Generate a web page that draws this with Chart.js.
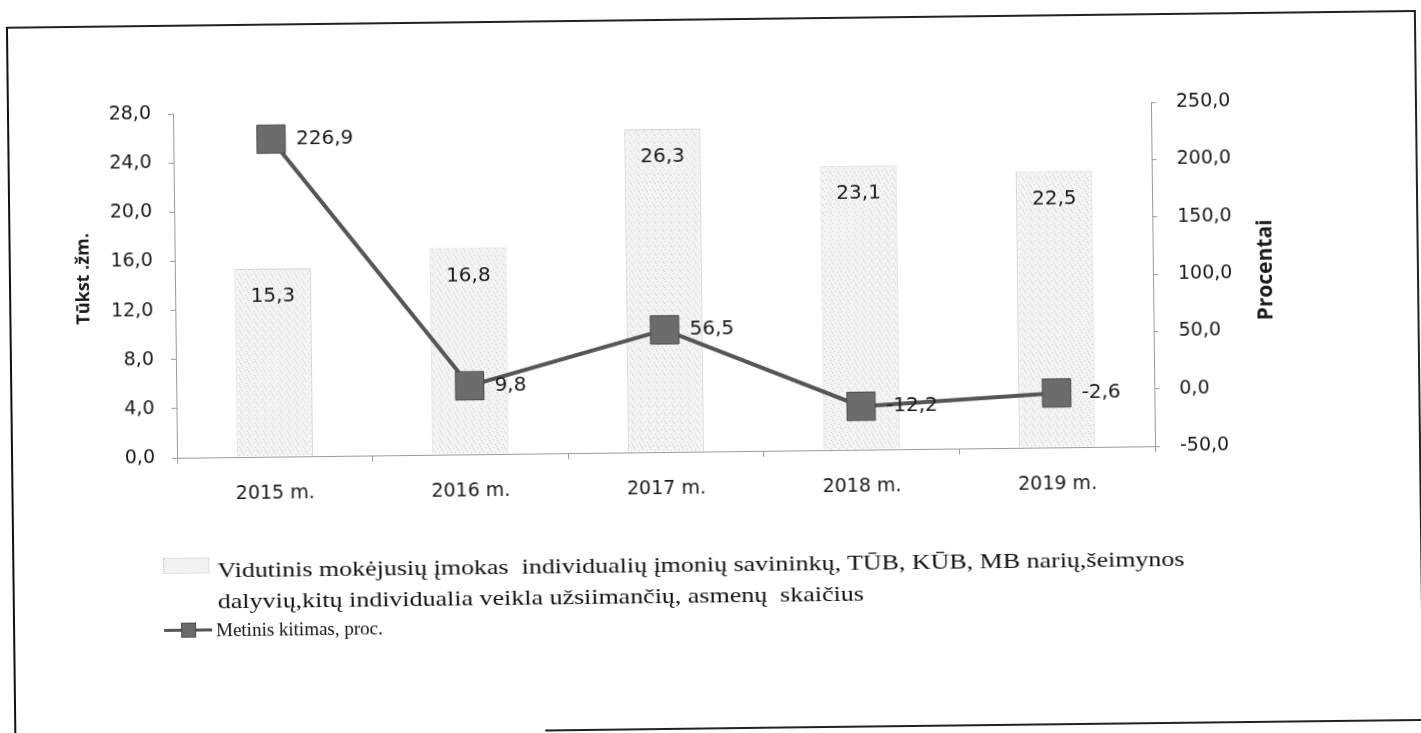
<!DOCTYPE html>
<html>
<head>
<meta charset="utf-8">
<script src="https://cdn.jsdelivr.net/npm/chart.js@4.4.1/dist/chart.umd.min.js"></script>
<style>
  html, body { margin:0; padding:0; background:#fff; overflow:hidden; }
  #page { width:1421px; height:733px; position:relative; transform: rotate(-0.68deg); transform-origin: 664px 280px; }
  #frame { position:absolute; left:9px; top:19px; width:1406px; height:760px; border-left:2px solid #111; border-top:2px solid #222; border-right:2px solid #222; }
  #bottomLine { position:absolute; left:540px; top:728px; width:900px; height:0; border-top:2px solid #222; }
  #wrap { position:absolute; left:0; top:0; width:1421px; height:733px; }
  .legend { position:absolute; font-family:"Liberation Serif","Times New Roman",serif; color:#111; white-space:pre; }
  #lg1 { left:214px; top:549px; font-size:22px; line-height:31px; transform: scaleX(1.18); transform-origin: 0 0; }
  #lg2 { left:212px; top:613px; font-size:19px; line-height:24px; }
  #sw1 { position:absolute; left:160px; top:552px; width:44px; height:14px; background:#f2f2f2; border:1px dotted #cfcfcf; }
  #sw2line { position:absolute; left:160px; top:623px; width:48px; height:0; border-top:3px solid #555; }
  #sw2box { position:absolute; left:177px; top:617px; width:13px; height:13px; background:#6a6a6a; border:1px solid #4a4a4a; }
</style>
</head>
<body>
<div id="page">
<div id="frame"></div>
<div id="bottomLine"></div>
<div id="wrap"><canvas id="c"></canvas></div>
<div id="sw1"></div>
<div class="legend" id="lg1">Vidutinis mokėjusių įmokas  individualių įmonių savininkų, TŪB, KŪB, MB narių,šeimynos
dalyvių,kitų individualia veikla užsiimančių, asmenų  skaičius</div>
<div id="sw2line"></div><div id="sw2box"></div>
<div class="legend" id="lg2">Metinis kitimas, proc.</div>
</div>
<script>
const categories = ["2015 m.", "2016 m.", "2017 m.", "2018 m.", "2019 m."];
const personsThousands = [15.3, 16.8, 26.3, 23.1, 22.5];
const annualChangePct = [226.9, 9.8, 56.5, -12.2, -2.6];
const leftTicks = [0, 4, 8, 12, 16, 20, 24, 28];
const rightTicks = [-50, 0, 50, 100, 150, 200, 250];
const leftTitle = "Tūkst .žm.";
const rightTitle = "Procentai";

const fmt = v => v.toFixed(1).replace('.', ',');

// light speckled fill for bars
function makePattern() {
  const p = document.createElement('canvas');
  p.width = 8; p.height = 8;
  const g = p.getContext('2d');
  g.fillStyle = '#f4f4f4'; g.fillRect(0,0,8,8);
  g.fillStyle = '#d4d4d4';
  [[1,1],[5,2],[3,5],[7,6],[0,7],[6,4]].forEach(([x,y]) => g.fillRect(x,y,1,1));
  return g.createPattern(p, 'repeat');
}

const tickFont = { family: "'DejaVu Sans', sans-serif", size: 19 };

const labelPlugin = {
  id: 'customLabels',
  afterDraw(chart) {
    const ctx = chart.ctx;
    ctx.save();
    ctx.fillStyle = '#1a1a1a';
    ctx.textBaseline = 'middle';
    ctx.font = "20px 'DejaVu Sans', sans-serif";
    const bars = chart.getDatasetMeta(1).data;
    bars.forEach((el, i) => {
      ctx.textAlign = 'center';
      ctx.fillText(fmt(personsThousands[i]), el.x, el.y + 28);
    });
    const pts = chart.getDatasetMeta(0).data;
    pts.forEach((el, i) => {
      ctx.textAlign = 'left';
      ctx.fillText(fmt(annualChangePct[i]), el.x + 25, el.y);
    });
    // axis titles (both read bottom-to-top)
    ctx.textAlign = 'center';
    [[leftTitle, 84, 272, 18], [rightTitle, 1266, 277, 21]].forEach(([t, x, y, s]) => {
      ctx.save();
      ctx.font = "bold " + s + "px 'Open Sans', sans-serif";
      ctx.translate(x, y);
      ctx.rotate(-Math.PI / 2);
      ctx.fillText(t, 0, 0);
      ctx.restore();
    });
    ctx.restore();
  }
};

const axisColor = '#9a9a9a';

new Chart(document.getElementById('c'), {
  data: {
    labels: categories,
    datasets: [
      {
        type: 'line',
        label: 'Metinis kitimas, proc.',
        data: annualChangePct,
        yAxisID: 'yR',
        borderColor: '#555555',
        borderWidth: 4,
        pointStyle: 'rect',
        pointRadius: 20,
        pointHoverRadius: 20,
        pointBackgroundColor: '#6c6c6c',
        pointBorderColor: '#4a4a4a',
        pointBorderWidth: 1,
        tension: 0,
        order: 0
      },
      {
        type: 'bar',
        label: 'Vidutinis mokėjusių įmokas individualių įmonių savininkų, TŪB, KŪB, MB narių,šeimynos dalyvių,kitų individualia veikla užsiimančių, asmenų skaičius',
        data: personsThousands,
        yAxisID: 'yL',
        backgroundColor: makePattern(),
        borderColor: '#d6d6d6',
        borderWidth: 1,
        categoryPercentage: 1,
        barPercentage: 0.39,
        order: 1
      }
    ]
  },
  options: {
    responsive: true,
    maintainAspectRatio: false,
    animation: false,
    events: [],
    layout: { padding: { left: 60, right: 100, top: 108, bottom: 233 } },
    plugins: { legend: { display: false }, tooltip: { enabled: false } },
    scales: {
      x: {
        offset: true,
        grid: { display: true, offset: true, drawOnChartArea: false, tickLength: 6, color: axisColor },
        border: { display: true, color: axisColor, dash: [2, 1] },
        ticks: { font: tickFont, color: '#1a1a1a', padding: 20, maxRotation: 0 },
        afterFit(s) { s.height = 48; }
      },
      yL: {
        position: 'left',
        min: 0, max: 28,
        afterBuildTicks(s) { s.ticks = leftTicks.map(v => ({ value: v })); },
        ticks: { font: tickFont, color: '#1a1a1a', padding: 17, callback: v => fmt(v) },
        grid: { display: true, drawOnChartArea: false, tickLength: 5, color: axisColor },
        border: { display: true, color: axisColor, dash: [2, 1] },
        afterFit(s) { s.width = 115; }
      },
      yR: {
        position: 'right',
        min: -50, max: 250,
        afterBuildTicks(s) { s.ticks = rightTicks.map(v => ({ value: v })); },
        ticks: { font: tickFont, color: '#1a1a1a', padding: 20, callback: v => fmt(v) },
        grid: { display: true, drawOnChartArea: false, tickLength: 5, color: axisColor },
        border: { display: true, color: axisColor, dash: [2, 1] },
        afterFit(s) { s.width = 168; }
      }
    }
  },
  plugins: [labelPlugin]
});
</script>
</body>
</html>
